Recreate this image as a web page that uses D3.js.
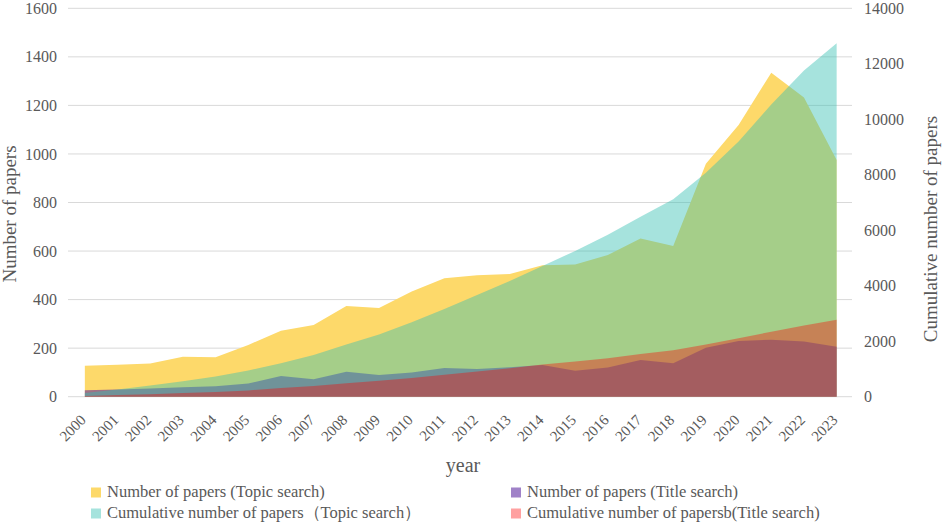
<!DOCTYPE html>
<html>
<head>
<meta charset="utf-8">
<script src="https://cdn.jsdelivr.net/npm/d3@7/dist/d3.min.js"></script>
<style>
  html, body { margin: 0; padding: 0; background: #fff; }
  svg { display: block; }
</style>
</head>
<body>
<svg id="chart" width="944" height="528"></svg>
<script>
const years = ["2000","2001","2002","2003","2004","2005","2006","2007","2008","2009","2010","2011",
               "2012","2013","2014","2015","2016","2017","2018","2019","2020","2021","2022","2023"];
const topicCount = [128,132,137,165,163,213,272,295,374,365,433,488,500,505,542,545,584,652,621,960,1119,1335,1233,975];
const titleCount = [27,30,34,39,43,54,85,72,103,89,100,118,114,121,131,107,120,151,138,202,229,235,227,206];
const topicCumulative = [130,260,400,560,725,940,1210,1505,1880,2245,2680,3165,3665,4170,4710,5255,5840,6490,7115,8075,9195,10530,11760,12740];
const titleCumulative = [27,57,91,130,173,227,312,384,487,576,676,794,908,1029,1160,1267,1387,1538,1676,1878,2107,2342,2569,2775];
const leftTicks = [0,200,400,600,800,1000,1200,1400,1600];
const rightTicks = [0,2000,4000,6000,8000,10000,12000,14000];
const seriesNames = ["Number of papers (Topic search)", "Number of papers (Title search)",
                     "Cumulative number of papers（Topic search）", "Cumulative number of papersb(Title search)"];

const FONT = "'Liberation Serif', 'Times New Roman', Times, 'DejaVu Serif', serif";
const svg = d3.select("#chart").attr("font-family", FONT);
const x = d3.scalePoint().domain(years).range([68.5, 853]).padding(0.5);
const yL = d3.scaleLinear().domain([0, 1600]).range([396.7, 8.3]);
const yR = d3.scaleLinear().domain([0, 14000]).range([396.7, 8.3]);

// gridlines
svg.append("g").selectAll("line").data(leftTicks).join("line")
  .attr("x1", 68).attr("x2", 852)
  .attr("y1", d => yL(d)).attr("y2", d => yL(d))
  .attr("stroke", "#d9d9d9").attr("stroke-width", 1);

const styles = [
  { fill: "#FDD96A", op: 1 },
  { fill: "rgb(86,32,157)", op: 0.56 },
  { fill: "rgb(53,191,178)", op: 0.44 },
  { fill: "rgb(255,0,0)", op: 0.37 }
];

function areaFor(vals, scale) {
  return d3.area()
    .x((d, i) => x(years[i]))
    .y0(scale(0))
    .y1(d => scale(d))(vals);
}

const layers = [
  [topicCount, yL, styles[0]],
  [titleCount, yL, styles[1]],
  [topicCumulative, yR, styles[2]],
  [titleCumulative, yR, styles[3]]
];
layers.forEach(([vals, sc, st]) => {
  svg.append("path").attr("d", areaFor(vals, sc))
    .attr("fill", st.fill).attr("fill-opacity", st.op);
});

const txt = sel => sel.attr("font-family", FONT).attr("fill", "#595959");

// left axis labels
svg.append("g").selectAll("text").data(leftTicks).join("text")
  .call(txt)
  .attr("x", 57).attr("y", d => yL(d)).attr("dy", "0.35em")
  .attr("text-anchor", "end").attr("font-size", 16).text(d => d);

// right axis labels
svg.append("g").selectAll("text").data(rightTicks).join("text")
  .call(txt)
  .attr("x", 864).attr("y", d => yR(d)).attr("dy", "0.35em")
  .attr("text-anchor", "start").attr("font-size", 16).text(d => d);

// x labels
svg.append("g").selectAll("text").data(years).join("text")
  .call(txt)
  .attr("transform", d => `translate(${x(d) + 2},${421}) rotate(-45)`)
  .attr("text-anchor", "end").attr("font-size", 15).text(d => d);

// axis titles
svg.append("text").call(txt).attr("transform", "translate(16,214) rotate(-90)")
  .attr("text-anchor", "middle").attr("font-size", 19).text("Number of papers");
svg.append("text").call(txt).attr("transform", "translate(937,229) rotate(-90)")
  .attr("text-anchor", "middle").attr("font-size", 19).text("Cumulative number of papers");
svg.append("text").call(txt).attr("x", 463).attr("y", 472)
  .attr("text-anchor", "middle").attr("font-size", 20).text("year");

// legend
const legendPos = [
  { x: 91, y: 487.5, s: 0 },
  { x: 511, y: 487.5, s: 1 },
  { x: 91, y: 508.5, s: 2 },
  { x: 511, y: 508.5, s: 3 }
];
const lg = svg.append("g").selectAll("g").data(legendPos).join("g");
lg.append("rect").attr("x", d => d.x).attr("y", d => d.y).attr("width", 10).attr("height", 10)
  .attr("fill", d => styles[d.s].fill).attr("fill-opacity", d => styles[d.s].op);
lg.append("text").call(txt).attr("x", d => d.x + 16).attr("y", d => d.y + 9.5)
  .attr("font-size", 16.5).text(d => seriesNames[d.s]);
</script>
</body>
</html>
